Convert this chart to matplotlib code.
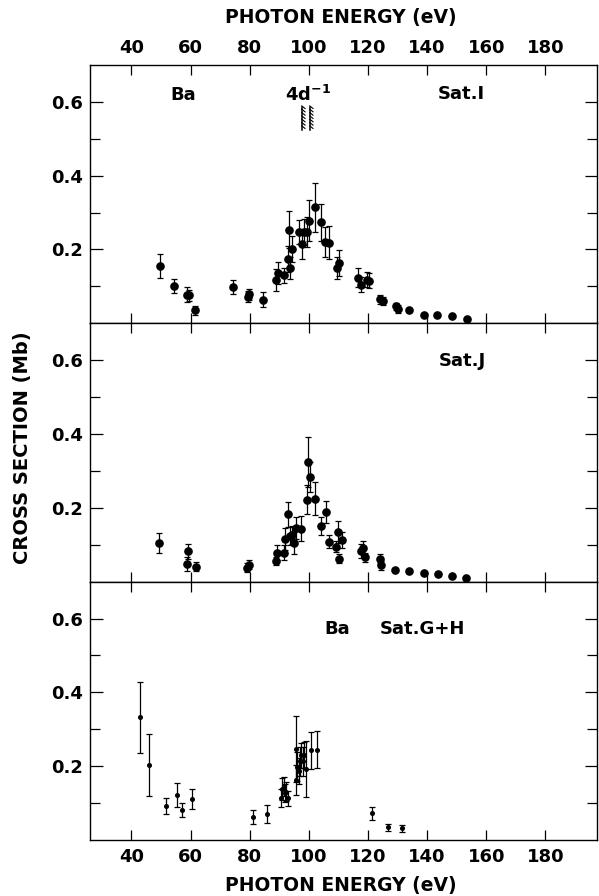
import numpy as np
import matplotlib.pyplot as plt

plt.rcParams['font.family'] = ['DejaVu Sans']
plt.rcParams['font.weight'] = 'bold'
plt.rcParams['mathtext.fontset'] = 'custom'
plt.rcParams['mathtext.bf'] = 'DejaVu Sans:bold'

# Ba satellite I
sat_i_e = [49.6, 54.5, 58.7, 59.5, 61.6, 74.3, 79.3, 79.8, 84.4, 89.0, 89.7, 91.6,
           93.1, 93.3, 93.7, 94.2, 96.5, 97.8, 98.4, 99.3, 99.9, 102.0, 104.0, 105.5,
           106.9, 109.4, 110.3, 116.7, 117.7, 119.7, 120.5, 124.2, 125.0, 129.6, 130.1,
           133.7, 139.0, 143.2, 148.5, 153.4]
sat_i_v = [0.156, 0.101, 0.078, 0.076, 0.035, 0.098, 0.072, 0.079, 0.064, 0.118, 0.137, 0.130,
           0.175, 0.254, 0.150, 0.201, 0.248, 0.215, 0.248, 0.247, 0.278, 0.314, 0.274, 0.221,
           0.218, 0.150, 0.164, 0.124, 0.105, 0.118, 0.115, 0.065, 0.060, 0.046, 0.039,
           0.035, 0.023, 0.023, 0.019, 0.012]
sat_i_err = [0.033, 0.018, 0.020, 0.015, 0.012, 0.019, 0.015, 0.015, 0.020, 0.030, 0.030, 0.020,
             0.035, 0.049, 0.030, 0.035, 0.032, 0.040, 0.035, 0.040, 0.055, 0.066, 0.050, 0.040,
             0.045, 0.030, 0.035, 0.025, 0.020, 0.020, 0.020, 0.012, 0.010, 0.010, 0.010,
             0, 0, 0, 0, 0]

# Ba satellite J
sat_j_e = [49.4, 58.7, 59.0, 61.9, 79.1, 79.9, 89.0, 89.3, 91.6, 91.9, 93.1, 93.6, 94.4,
           95.0, 95.5, 97.5, 99.2, 99.7, 100.4, 102.1, 104.0, 105.7, 106.9, 109.1, 109.9,
           110.3, 111.1, 117.7, 118.4, 119.0, 124.1, 124.5, 129.0, 133.9, 139.0, 143.7,
           148.5, 153.1]
sat_j_v = [0.104, 0.048, 0.082, 0.041, 0.038, 0.046, 0.056, 0.078, 0.078, 0.116, 0.182, 0.124,
           0.126, 0.104, 0.146, 0.144, 0.222, 0.325, 0.283, 0.225, 0.151, 0.189, 0.108, 0.095,
           0.134, 0.062, 0.113, 0.083, 0.092, 0.066, 0.062, 0.044, 0.032, 0.030, 0.023, 0.021,
           0.016, 0.010]
sat_j_err = [0.027, 0.018, 0.020, 0.012, 0.012, 0.012, 0.012, 0.020, 0.020, 0.030, 0.033, 0.025,
             0.025, 0.030, 0.030, 0.035, 0.040, 0.068, 0.040, 0.045, 0.025, 0.030, 0.018, 0.015,
             0.030, 0.012, 0.022, 0.018, 0.018, 0.012, 0.012, 0.012, 0, 0, 0, 0,
             0, 0]

# Ba satellites G+H
sat_gh_e = [42.8, 45.8, 51.6, 55.5, 57.0, 60.4, 81.0, 85.9, 90.7, 91.0, 91.5, 92.0, 92.4,
            93.0, 95.8, 95.8, 96.1, 96.6, 97.0, 97.5, 97.9, 98.4, 99.0, 100.7, 102.7,
            121.4, 126.9, 131.6]
sat_gh_v = [0.332, 0.204, 0.093, 0.122, 0.082, 0.111, 0.062, 0.070, 0.113, 0.138, 0.145,
            0.127, 0.131, 0.113, 0.246, 0.163, 0.199, 0.186, 0.213, 0.229, 0.213, 0.231,
            0.192, 0.243, 0.245, 0.072, 0.034, 0.032]
sat_gh_err = [0.095, 0.084, 0.022, 0.033, 0.019, 0.027, 0.018, 0.024, 0.024, 0.030, 0.025,
              0.025, 0.025, 0.020, 0.090, 0.040, 0.040, 0.035, 0.040, 0.035, 0.040, 0.035,
              0.075, 0.050, 0.050, 0.017, 0.010, 0.009]

# 4d ionization thresholds
thresholds = [97.6, 100.3]

energy_ticks = [40, 60, 80, 100, 120, 140, 160, 180]

fig = plt.figure(figsize=(5.99, 8.96), dpi=100)
gs = fig.add_gridspec(3, 1, left=0.1503, right=0.997, top=0.9275, bottom=0.0625, hspace=0)
axes = [fig.add_subplot(gs[i]) for i in range(3)]

series = [(sat_i_e, sat_i_v, sat_i_err, 5.2),
          (sat_j_e, sat_j_v, sat_j_err, 5.2),
          (sat_gh_e, sat_gh_v, sat_gh_err, 2.6)]

for ax, (e, v, err, ms) in zip(axes, series):
    ax.errorbar(e, v, yerr=err, fmt='o', color='black', ms=ms, elinewidth=0.9,
                capsize=2.4, capthick=0.9, zorder=3)
    ax.set_xlim(26, 197.5)
    ax.set_ylim(0, 0.70)
    ax.set_xticks(energy_ticks)
    ax.set_yticks([0.2, 0.4, 0.6])
    ax.set_yticks([0.1, 0.3, 0.5], minor=True)
    ax.set_yticklabels(['0.2', '0.4', '0.6'])
    ax.tick_params(axis='x', which='both', direction='in', top=True, bottom=True,
                   length=7, width=0.9, labelbottom=False, labeltop=False, pad=6,
                   labelsize=13)
    ax.tick_params(axis='y', which='major', direction='in', left=True, right=True,
                   length=9, width=0.9, pad=5, labelsize=13)
    ax.tick_params(axis='y', which='minor', direction='in', left=True, right=True,
                   length=7, width=0.9)
    for s in ax.spines.values():
        s.set_linewidth(1.0)

axes[0].tick_params(axis='x', labeltop=True)
axes[2].tick_params(axis='x', labelbottom=True)

# panel labels
axes[0].text(57.5, 0.618, 'Ba', ha='center', va='center', fontsize=13, fontweight='bold')
axes[0].text(99.8, 0.618, r'4d$^{\mathbf{-1}}$', ha='center', va='center', fontsize=13,
             fontweight='bold')
axes[0].text(151.5, 0.62, 'Sat.I', ha='center', va='center', fontsize=13, fontweight='bold')
axes[1].text(152.0, 0.598, 'Sat.J', ha='center', va='center', fontsize=13, fontweight='bold')
axes[2].text(109.5, 0.572, 'Ba', ha='center', va='center', fontsize=13, fontweight='bold')
axes[2].text(138.5, 0.572, 'Sat.G+H', ha='center', va='center', fontsize=13, fontweight='bold')

# hatched threshold bars
for t in thresholds:
    axes[0].plot([t, t], [0.525, 0.585], color='black', lw=1.1)
    for y in np.arange(0.528, 0.585, 0.009):
        axes[0].plot([t, t + 1.1], [y + 0.007, y], color='black', lw=0.8)

fig.text(0.5695, 0.980, 'PHOTON ENERGY (eV)', ha='center', va='center', fontsize=13.5,
         fontweight='bold')
fig.text(0.5695, 0.012, 'PHOTON ENERGY (eV)', ha='center', va='center', fontsize=13.5,
         fontweight='bold')
fig.text(0.037, 0.50, 'CROSS SECTION (Mb)', ha='center', va='center', rotation=90,
         fontsize=14, fontweight='bold')

fig.savefig('out.png', dpi=100)
